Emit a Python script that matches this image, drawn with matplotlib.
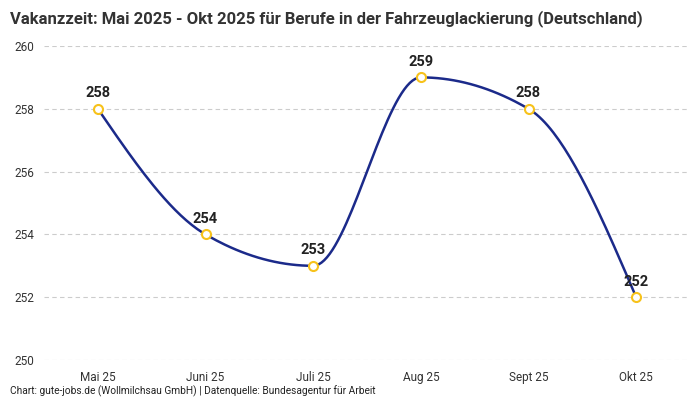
import numpy as np
import matplotlib.pyplot as plt
from matplotlib import font_manager

months = ['Mai 25', 'Juni 25', 'Juli 25', 'Aug 25', 'Sept 25', 'Okt 25']
vakanz = [258, 254, 253, 259, 258, 252]

names = {f.name for f in font_manager.fontManager.ttflist}
cond = 'Liberation Sans Narrow' if 'Liberation Sans Narrow' in names else 'Roboto'
plt.rcParams['font.family'] = [cond, 'DejaVu Sans']


def monotone_x(x, y, n=40):
    # d3 curveMonotoneX style smoothing
    x = np.asarray(x, float)
    y = np.asarray(y, float)
    h = np.diff(x)
    s = np.diff(y) / h
    t = np.zeros(len(x))
    for i in range(1, len(x) - 1):
        p = (s[i - 1] * h[i] + s[i] * h[i - 1]) / (h[i - 1] + h[i])
        t[i] = (np.sign(s[i - 1]) + np.sign(s[i])) * min(abs(s[i - 1]), abs(s[i]), 0.5 * abs(p))
    t[0] = (3 * s[0] - t[1]) / 2
    t[-1] = (3 * s[-1] - t[-2]) / 2
    xs, ys = [], []
    for i in range(len(x) - 1):
        u = np.linspace(0, 1, n)
        h00 = 2 * u**3 - 3 * u**2 + 1
        h10 = u**3 - 2 * u**2 + u
        h01 = -2 * u**3 + 3 * u**2
        h11 = u**3 - u**2
        xs.extend(x[i] + u * h[i])
        ys.extend(h00 * y[i] + h10 * h[i] * t[i] + h01 * y[i + 1] + h11 * h[i] * t[i + 1])
    return np.array(xs), np.array(ys)


xpos = np.arange(len(months))
cx, cy = monotone_x(xpos, vakanz)

fig = plt.figure(figsize=(7, 4), dpi=100)
ax = fig.add_axes([44 / 700, 40 / 400, 646 / 700, 314 / 400])

ax.plot(cx, cy, color='#1b2a8a', lw=1.8, zorder=2)
ax.plot(xpos, vakanz, 'o', ms=6.5, mfc='white', mec='#f7c21b', mew=1.5, zorder=3)
for xi, v in zip(xpos, vakanz):
    ax.annotate(str(v), (xi, v), xytext=(0, 6), textcoords='offset points',
                ha='center', va='bottom', fontsize=10.5, fontweight='bold', color='#222222')

ax.set_xlim(-0.5, len(months) - 0.5)
ax.set_ylim(250, 260)
ax.set_yticks(range(250, 261, 2))
ax.set_xticks(xpos)
ax.set_xticklabels(months)
ax.grid(axis='y', color='#cccccc', ls=(0, (4, 3)), lw=0.8)
ax.set_axisbelow(True)
for sp in ax.spines.values():
    sp.set_visible(False)
ax.tick_params(length=0, labelsize=8.5, colors='#333333')
ax.tick_params(axis='y', pad=14)
ax.tick_params(axis='x', pad=8)
for lab in ax.get_yticklabels():
    lab.set_horizontalalignment('left')
    lab.set_x(-0.015)

fig.text(10 / 700, 1 - 10 / 400, 'Vakanzzeit: Mai 2025 - Okt 2025 für Berufe in der Fahrzeuglackierung (Deutschland)',
         ha='left', va='top', fontsize=12, fontweight='bold', color='#333333')
fig.text(10 / 700, 1 - 394 / 400, 'Chart: gute-jobs.de (Wollmilchsau GmbH) | Datenquelle: Bundesagentur für Arbeit',
         ha='left', va='baseline', fontsize=7.3, color='#222222')

fig.savefig('out.png', dpi=100)
